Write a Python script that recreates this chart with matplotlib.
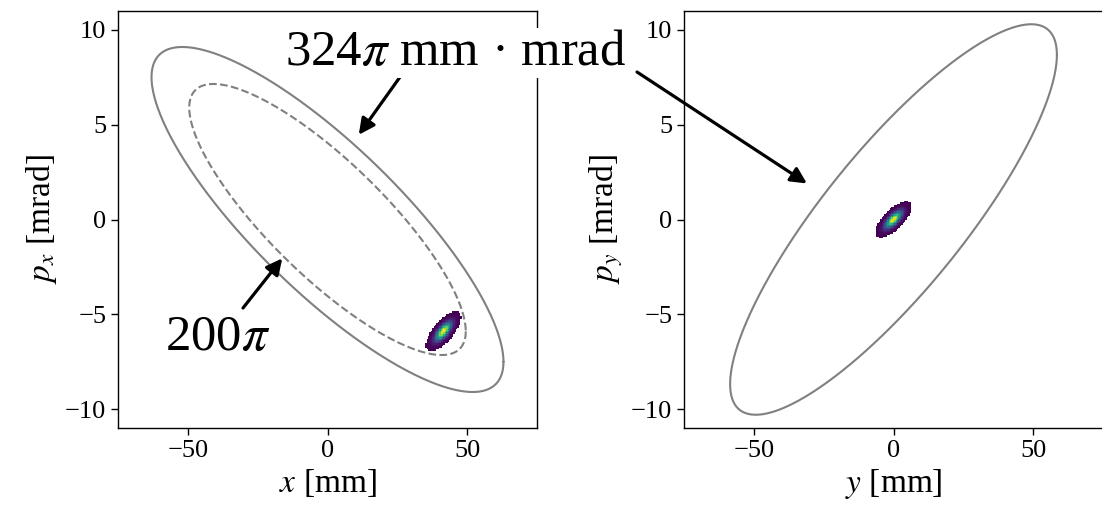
import numpy as np
import matplotlib.pyplot as plt

plt.rcParams['font.family'] = 'Liberation Serif'
plt.rcParams['mathtext.fontset'] = 'stix'
plt.rcParams['xtick.labelsize'] = 19
plt.rcParams['ytick.labelsize'] = 19
plt.rcParams['axes.labelsize'] = 24
plt.rcParams['axes.linewidth'] = 1.0

# ------- values ------------------------------
# Twiss (beta [m], alpha) of the acceptance ellipses, emittances in pi mm mrad
twiss_x = (12.25, 1.46)
twiss_y = (10.56, -1.568)
emit_outer = 324
emit_inner = 200

# beam centroid (mm, mrad), rms sizes and x-p correlation
beam_x_cen = (41.5, -5.9)
beam_x_sig = (1.8, 0.3)
beam_x_r = 0.7
beam_y_cen = (0.0, 0.0)
beam_y_sig = (1.85, 0.28)
beam_y_r = 0.7

x_ticks = [-50, 0, 50]
y_ticks = [-10, -5, 0, 5, 10]

W, H = 1102, 516


def twiss_ellipse(beta, alpha, eps):
    t = np.linspace(0, 2*np.pi, 500)
    u = np.sqrt(eps*beta)*np.cos(t)
    up = -np.sqrt(eps/beta)*(alpha*np.cos(t) + np.sin(t))
    return u, up


def beam_density(cen, sig, r):
    xe = np.arange(cen[0] - 5*sig[0], cen[0] + 5*sig[0], 0.5)
    ye = np.arange(cen[1] - 5*sig[1], cen[1] + 5*sig[1], 0.08)
    X, Y = np.meshgrid(0.5*(xe[1:] + xe[:-1]), 0.5*(ye[1:] + ye[:-1]))
    a = (X - cen[0])/sig[0]
    b = (Y - cen[1])/sig[1]
    q = (a**2 - 2*r*a*b + b**2)/(1 - r**2)
    d = np.exp(-0.5*q)
    d = np.ma.masked_less(d, np.exp(-0.5*3.5**2))
    return xe, ye, d


fig = plt.figure(figsize=(W/100, H/100), dpi=100)
ax1 = fig.add_axes([118/W, 88/H, 419/W, 417/H])
ax2 = fig.add_axes([684/W, 88/H, 419/W, 417/H])

line = dict(color='gray', lw=1.5, solid_capstyle='round', dash_capstyle='butt')

# left: horizontal plane
u, up = twiss_ellipse(twiss_x[0], twiss_x[1], emit_outer)
ax1.plot(u, up, **line)
u, up = twiss_ellipse(twiss_x[0], twiss_x[1], emit_inner)
ax1.plot(u, up, ls='--', **line)
xe, ye, d = beam_density(beam_x_cen, beam_x_sig, beam_x_r)
ax1.pcolormesh(xe, ye, d, cmap='viridis', zorder=3)
ax1.set_xlabel('$x$ [mm]')
ax1.set_ylabel('$p_x$ [mrad]')

# right: vertical plane
u, up = twiss_ellipse(twiss_y[0], twiss_y[1], emit_outer)
ax2.plot(u, up, **line)
xe, ye, d = beam_density(beam_y_cen, beam_y_sig, beam_y_r)
ax2.pcolormesh(xe, ye, d, cmap='viridis', zorder=3)
ax2.set_xlabel('$y$ [mm]')
ax2.set_ylabel('$p_y$ [mrad]')

for ax in (ax1, ax2):
    ax.set_xlim(-75, 75)
    ax.set_ylim(-11, 11)
    ax.set_xticks(x_ticks)
    ax.set_yticks(y_ticks)
    ax.tick_params(length=5, width=1.0)

# annotations
arrow = dict(arrowstyle='-|>', color='black', lw=2.3, mutation_scale=24,
             shrinkA=0, shrinkB=0)
ax1.annotate('', xy=(11.2, 4.47), xytext=(400/W, 1 - 77/H),
             textcoords='figure fraction', arrowprops=arrow)
ax2.annotate('', xy=(-31, 1.9), xytext=(637/W, 1 - 72/H),
             textcoords='figure fraction', arrowprops=arrow)
ax1.annotate('', xy=(-16.2, -2.05), xytext=(243/W, 1 - 308/H),
             textcoords='figure fraction', arrowprops=arrow)

fig.text(285/W, 1 - 65/H, '324$\\pi$ mm · mrad', fontsize=36.5, va='baseline',
         bbox=dict(fc='white', ec='none', pad=1), zorder=10)
fig.text(165/W, 1 - 350/H, '200$\\pi$', fontsize=36.5, va='baseline',
         bbox=dict(fc='white', ec='none', pad=1), zorder=10)

fig.savefig('out.png', dpi=100)
